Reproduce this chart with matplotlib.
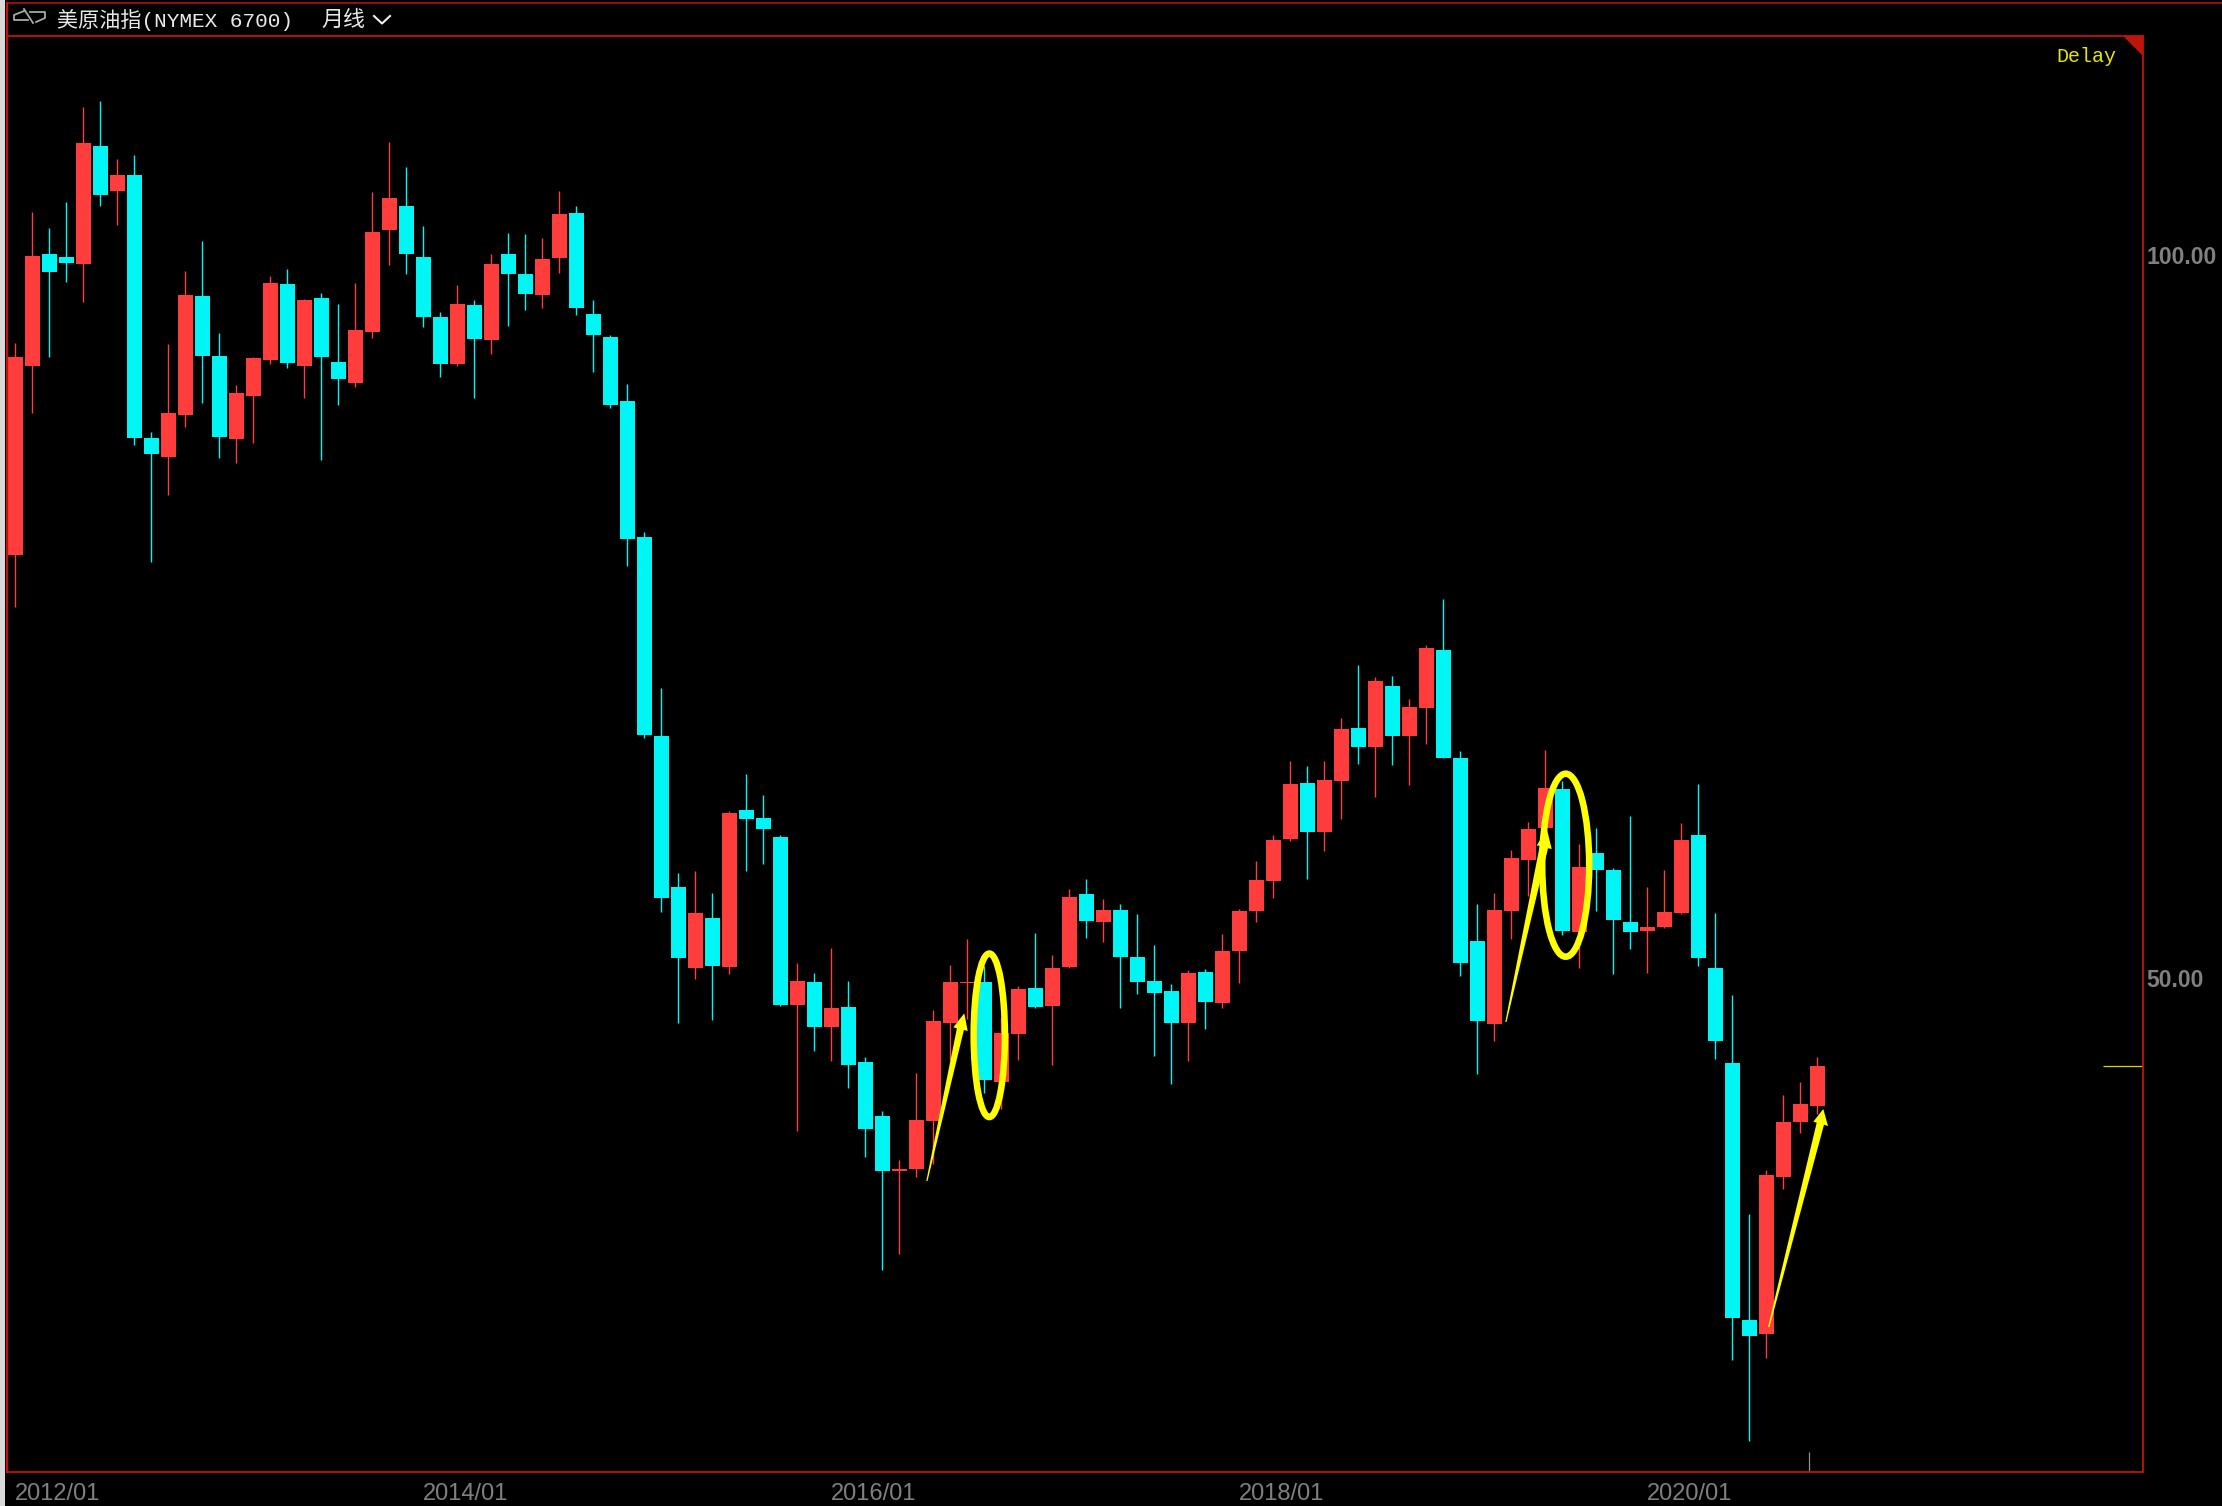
import matplotlib
matplotlib.use("Agg")
import matplotlib.pyplot as plt
from matplotlib.lines import Line2D
from matplotlib.patches import Ellipse, Polygon, Rectangle
from matplotlib.transforms import Affine2D

W, H = 2222, 1506

opens = [79.24, 92.31, 100.08, 99.86, 99.37, 107.54, 104.43, 105.52, 87.34, 86.02,
         88.92, 97.15, 93.02, 87.28, 90.26, 92.75, 98.00, 92.31, 97.02, 92.59,
         91.14, 94.67, 101.72, 103.39, 99.86, 95.71, 92.45, 96.55, 94.12, 100.08,
         98.68, 97.24, 99.81, 102.90, 95.92, 94.34, 89.91, 80.49, 66.73, 56.28,
         50.70, 54.16, 50.75, 61.62, 61.07, 59.74, 48.13, 49.71, 46.60, 47.99,
         44.19, 40.46, 36.65, 36.79, 40.11, 46.89, 49.65, 49.72, 42.81, 46.13,
         49.31, 48.06, 50.76, 55.81, 53.87, 54.70, 51.45, 49.79, 49.10, 46.89,
         50.41, 48.27, 51.87, 54.63, 56.71, 59.61, 63.48, 60.09, 63.62, 67.29,
         65.97, 70.19, 66.73, 68.67, 72.68, 65.21, 52.56, 46.82, 54.63, 58.16,
         60.37, 63.07, 53.18, 58.64, 57.47, 53.87, 53.25, 53.52, 54.49, 59.89,
         50.69, 44.12, 26.35, 25.40, 36.26, 40.04, 41.16]
closes = [92.94, 99.94, 98.82, 99.45, 107.74, 104.15, 105.52, 87.34, 86.24, 89.09,
          97.24, 93.02, 87.42, 90.45, 92.89, 98.06, 92.53, 96.88, 92.94, 91.41,
          94.80, 101.58, 103.94, 100.08, 95.71, 92.45, 96.61, 94.20, 99.37, 98.68,
          97.29, 99.72, 102.84, 96.33, 94.47, 89.63, 80.36, 66.81, 55.54, 51.39,
          54.51, 50.83, 61.42, 61.00, 60.31, 48.13, 49.79, 46.60, 47.93, 43.98,
          39.56, 36.65, 36.79, 40.18, 47.03, 49.72, 49.72, 42.95, 46.20, 49.24,
          47.99, 50.69, 55.60, 53.94, 54.70, 51.45, 49.72, 48.96, 46.89, 50.35,
          48.34, 51.87, 54.63, 56.78, 59.55, 63.42, 60.09, 63.69, 67.22, 65.97,
          70.54, 66.73, 68.74, 72.82, 65.21, 51.03, 47.03, 54.70, 58.30, 60.30,
          63.14, 53.25, 57.67, 57.47, 54.01, 53.18, 53.52, 54.56, 59.54, 51.38,
          45.64, 26.49, 25.24, 36.39, 40.04, 41.29, 43.92]
highs = [93.93, 102.98, 101.86, 103.66, 110.22, 110.66, 106.64, 106.92, 87.75, 93.84,
         98.90, 100.98, 94.61, 91.00, 92.94, 98.55, 99.04, 96.99, 97.37, 96.61,
         98.06, 104.35, 107.82, 106.10, 101.99, 96.06, 97.92, 96.88, 100.08, 101.53,
         101.45, 101.17, 104.43, 103.39, 96.88, 94.47, 91.08, 80.83, 70.07, 57.27,
         57.39, 55.89, 61.55, 64.11, 62.66, 59.89, 51.05, 50.36, 52.08, 49.79,
         44.54, 40.80, 37.41, 43.43, 47.79, 50.90, 52.70, 50.83, 47.21, 49.45,
         53.11, 51.59, 56.15, 56.85, 55.46, 55.12, 54.43, 52.28, 49.58, 50.55,
         50.62, 53.04, 54.77, 58.09, 59.89, 65.01, 64.66, 65.00, 67.98, 71.64,
         70.81, 70.88, 69.29, 73.03, 76.21, 65.70, 55.11, 55.88, 58.85, 60.79,
         65.76, 63.62, 59.26, 60.37, 57.61, 61.20, 56.29, 57.47, 60.72, 63.41,
         54.49, 48.82, 33.69, 36.72, 41.92, 42.81, 44.55]
lows = [75.66, 89.09, 92.94, 98.14, 96.74, 103.39, 102.08, 86.87, 78.80, 83.40,
        88.10, 89.77, 85.97, 85.61, 87.01, 92.45, 92.18, 90.10, 85.83, 89.63,
        90.87, 94.25, 99.31, 98.68, 95.02, 91.58, 92.31, 90.10, 93.16, 95.10,
        96.20, 96.33, 98.77, 95.84, 91.90, 89.41, 78.50, 66.61, 54.56, 46.90,
        49.94, 47.10, 50.28, 57.39, 57.89, 48.06, 39.42, 44.95, 44.26, 42.39,
        37.62, 29.81, 30.91, 36.24, 37.14, 44.33, 47.16, 42.05, 40.94, 44.33,
        47.92, 43.98, 50.69, 52.77, 52.49, 47.92, 48.89, 44.61, 42.67, 44.26,
        46.47, 47.92, 49.65, 53.87, 55.53, 59.48, 56.84, 58.78, 60.99, 64.80,
        62.51, 64.73, 63.34, 66.18, 65.21, 50.14, 43.36, 45.64, 52.69, 55.67,
        59.08, 52.97, 50.69, 54.63, 50.27, 52.00, 50.34, 53.46, 54.42, 50.83,
        44.40, 23.59, 18.00, 23.72, 35.40, 39.29, 40.57]
date_tick_positions = [0, 24, 48, 72, 96]
date_tick_labels = ["2012/01", "2014/01", "2016/01", "2018/01", "2020/01"]
price_ticks = [50, 100]
price_tick_labels = ["50.00", "100.00"]

UP = "#FF3D3D"
DOWN = "#00F5F5"
FRAME = "#BE140A"
GREY = "#808080"
YELLOW = "#FFFF00"

fig = plt.figure(figsize=(W / 100, H / 100), dpi=100, facecolor="black")
pix = Affine2D().scale(1, -1).translate(0, H)

L, R, T, B = 7.0, 2142.7, 36.0, 1471.5
ax = fig.add_axes([L / W, 1 - B / H, (R - L) / W, (B - T) / H], facecolor="black")
ax.set_xlim((L - 15.2) / 17, (R - 15.2) / 17)
ax.set_ylim(100 - (B - 255) / 14.46, 100 - (T - 255) / 14.46)

xs = list(range(len(opens)))
cols = [UP if c >= o else DOWN for o, c in zip(opens, closes)]
ax.vlines(xs, lows, highs, colors=cols, linewidth=1.0, zorder=2)
ax.bar(xs, [abs(c - o) for o, c in zip(opens, closes)],
       bottom=[min(o, c) for o, c in zip(opens, closes)],
       width=15 / 17, color=cols, linewidth=0, zorder=3)

# last-price marker at the right edge and small marker on the date axis
ax.hlines(closes[-1], (2103 - 15.2) / 17, (R - 15.2) / 17, colors="#D8D800", linewidth=0.9, zorder=2)
ax.vlines(105.5, ax.get_ylim()[0], 17.2, colors="#909090", linewidth=0.9, zorder=2)

for s in ax.spines.values():
    s.set_color(FRAME)
    s.set_linewidth(1.3)

ax.set_xticks(date_tick_positions)
ax.set_xticklabels(date_tick_labels, family="Liberation Sans", fontsize=17, color=GREY, ha="left")
ax.yaxis.tick_right()
ax.set_yticks(price_ticks)
ax.set_yticklabels(price_tick_labels, family="Liberation Sans", fontsize=16.6, color=GREY,
                   fontweight="bold")
ax.tick_params(axis="x", length=0, pad=8.5)
ax.tick_params(axis="y", length=0, pad=2.5)

# window chrome
fig.add_artist(Rectangle((0, 0), 4.5, H, transform=pix, facecolor="#D9D9D9", edgecolor="none"))
fig.add_artist(Line2D([6.5, 6.5], [2.5, B], transform=pix, color=FRAME, linewidth=1.6))
fig.add_artist(Line2D([6.5, W], [2.5, 2.5], transform=pix, color=FRAME, linewidth=1.1))
fig.add_artist(Polygon([(2122.7, 36), (2142.7, 36), (2142.7, 56)], closed=True, transform=pix,
                       facecolor=FRAME, edgecolor="none"))

fam = ["Liberation Mono", "Noto Sans CJK SC"]
fig.text(57, 20, "美原油指(NYMEX 6700)", transform=pix, family=fam, fontsize=15.2,
         color="#E8E8E8", va="center", ha="left")
fig.text(321, 20, "月线", transform=pix, family=["Noto Sans CJK SC"], fontsize=15.8,
         color="#E8E8E8", va="center", ha="left")
fig.add_artist(Line2D([374, 382, 390], [16, 23.5, 16], transform=pix, color="#F0F0F0", linewidth=1.5))
fig.text(2056.5, 56.5, "Delay", transform=pix, family="Liberation Mono", fontsize=14.4,
         color="#E6E600", va="center", ha="left")

# link icon
icon = "#A8A8A8"
fig.add_artist(Line2D([24, 14, 14, 28], [11, 15, 20, 20], transform=pix, color=icon, linewidth=1.3))
fig.add_artist(Line2D([24, 33], [9, 23], transform=pix, color=icon, linewidth=1.3))
fig.add_artist(Line2D([30, 45, 45, 36], [12, 12, 18, 22], transform=pix, color=icon, linewidth=1.3))

# hand-drawn yellow annotations
arrows = [
    [(926.3, 1181), (956.9, 1028.3), (953.3, 1027.3), (964.3, 1013.3), (967.7, 1031), (963.9, 1030), (927.5, 1181)],
    [(1505.3, 1022), (1539.8, 845.7), (1536.7, 845.7), (1546.7, 828.3), (1551.7, 849), (1548.0, 848.3), (1506.5, 1022)],
    [(1768.0, 1327), (1816.7, 1122.7), (1813.3, 1121.7), (1823.3, 1109), (1828, 1126), (1824, 1124.7), (1769.5, 1327)],
]
for pts in arrows:
    fig.add_artist(Polygon(pts, closed=True, transform=pix, facecolor=YELLOW, edgecolor="none", zorder=5))
for (cx, cy, w, h) in [(989.3, 1035.3, 31.2, 163.5), (1565.7, 865.2, 47, 183)]:
    fig.add_artist(Ellipse((cx, cy), w, h, transform=pix, facecolor="none", edgecolor=YELLOW,
                           linewidth=4.7, zorder=5))

fig.savefig("out.png", dpi=100, facecolor="black")
